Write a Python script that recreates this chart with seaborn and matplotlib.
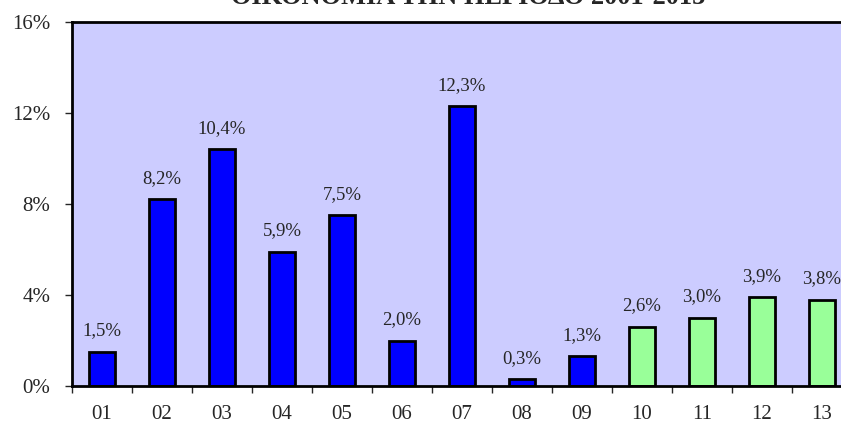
import matplotlib
matplotlib.use("Agg")
import matplotlib.pyplot as plt
import seaborn as sns
import pandas as pd
from matplotlib.ticker import FixedLocator

# Data
years = ["01", "02", "03", "04", "05", "06", "07", "08", "09", "10", "11", "12", "13"]
growth = [1.5, 8.2, 10.4, 5.9, 7.5, 2.0, 12.3, 0.3, 1.3, 2.6, 3.0, 3.9, 3.8]
bar_colors = ["#0000FF"] * 9 + ["#99FF99"] * 4
title = "ΟΙΚΟΝΟΜΙΑ ΤΗΝ ΠΕΡΙΟΔΟ 2001-2013"

df = pd.DataFrame({"year": years, "growth": growth})

sns.set_style("white")
plt.rcParams["font.family"] = ["Liberation Serif", "DejaVu Serif"]

fig = plt.figure(figsize=(8.41, 4.29), dpi=100)
ax = fig.add_axes([72 / 841, 43 / 429, 780 / 841, 364 / 429])
ax.set_facecolor("#CCCCFF")

sns.barplot(data=df, x="year", y="growth", hue="year", palette=bar_colors,
            saturation=1, legend=False, width=0.42, edgecolor="black",
            linewidth=2, ax=ax)

for i, v in enumerate(growth):
    ax.annotate(f"{v:.1f}%".replace(".", ","), (i, v), xytext=(0, 9),
                textcoords="offset points", ha="center", va="bottom", fontsize=13.5)

ax.set_xlim(-0.5, len(years) - 0.5)
ax.set_ylim(0, 16)
ax.set_yticks([0, 4, 8, 12, 16])
ax.set_yticklabels(["0%", "4%", "8%", "12%", "16%"])
ax.set_xlabel("")
ax.set_ylabel("")

ax.xaxis.set_minor_locator(FixedLocator([i - 0.5 for i in range(len(years) + 1)]))
ax.tick_params(axis="x", which="major", length=0, pad=13.5, labelsize=15)
ax.tick_params(axis="x", which="minor", length=5, width=1, direction="out", bottom=True)
ax.tick_params(axis="y", length=5, width=1, direction="out", left=True, pad=10.5, labelsize=15)

for side in ["left", "bottom", "top", "right"]:
    ax.spines[side].set_color("black")
    ax.spines[side].set_linewidth(2)

# title sits partly above the canvas, as in the original
fig.text(468 / 841, 1 - 4 / 429, title, ha="center", va="baseline",
         fontsize=19, fontweight="bold")

fig.savefig("out.png", dpi=100)
